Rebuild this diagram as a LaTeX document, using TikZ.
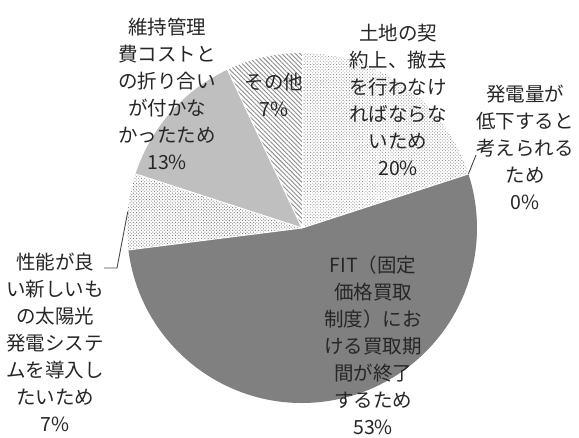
\documentclass[tikz,border=0pt]{standalone}
\usepackage{fontspec}
\newfontfamily\jpfont{Noto Sans CJK JP}
\usetikzlibrary{patterns.meta}
\definecolor{darkslice}{HTML}{808080}
\definecolor{lightslice}{HTML}{BFBFBF}
\definecolor{labeltext}{HTML}{262626}
\tikzset{
  slice/.style={draw=white, line width=1pt},
  lbl/.style={align=center, inner sep=0pt, text=labeltext, font={\jpfont\fontsize{19.5}{27}\selectfont}},
  leader/.style={draw=labeltext!85, line width=0.9pt}
}
\begin{document}
\begin{tikzpicture}[x=1pt,y=1pt]
\useasboundingbox (0,0) rectangle (579,437);
\fill[white] (0,0) rectangle (579,437);
\coordinate (C) at (302,209);
\def\R{175}
% slices
\fill[pattern={Lines[angle=-45,distance=3.2pt,line width=0.9pt]}, pattern color=darkslice!90]
  (C) -- ++(90:\R) arc[start angle=90, end angle=115.2, radius=\R] -- cycle;
\fill[lightslice] (C) -- ++(115.2:\R) arc[start angle=115.2, end angle=162, radius=\R] -- cycle;
\fill[pattern={Dots[radius=0.65pt,distance=2.3pt,angle=45]}, pattern color=darkslice]
  (C) -- ++(162:\R) arc[start angle=162, end angle=187.2, radius=\R] -- cycle;
\fill[darkslice] (C) -- ++(187.2:\R) arc[start angle=187.2, end angle=378, radius=\R] -- cycle;
\fill[pattern={Dots[radius=0.6pt,distance=2.3pt,angle=45]}, pattern color=darkslice!90]
  (C) -- ++(18:\R) arc[start angle=18, end angle=90, radius=\R] -- cycle;
% white separators
\foreach \a in {90,115.2,162,187.2,18}{
  \draw[slice] (C) -- ++(\a:\R);
}
% labels
\node[lbl] (n13) at (167,343) {維持管理\\費コストと\\の折り合い\\が付かな\\かったため\\13\%};
\node[lbl] (nother) at (274,342) {その他\\7\%};
\node[lbl] (n20) at (398,337.5) {土地の契\\約上、撤去\\を行わなけ\\ればならな\\いため\\20\%};
\node[lbl] (n0) at (525,290) {発電量が\\低下すると\\考えられる\\ため\\0\%};
\node[lbl] (n7) at (55,94.5) {性能が良\\い新しいも\\の太陽光\\発電システ\\ムを導入し\\たいため\\7\%};
\node[lbl] (n53) at (373,91.5) {FIT（固定\\価格買取\\制度）にお\\ける買取期\\間が終了\\するため\\53\%};
% leader lines
\path (C) ++(18:\R) coordinate (e0);
\coordinate (k0) at (476,282);
\draw[leader] (e0) -- (k0);
\path (C) ++(174.6:\R) coordinate (e7);
\coordinate (b7) at (117,169);
\coordinate (k7) at (104,169);
\draw[leader] (e7) -- (b7) -- (k7);
\end{tikzpicture}
\end{document}
